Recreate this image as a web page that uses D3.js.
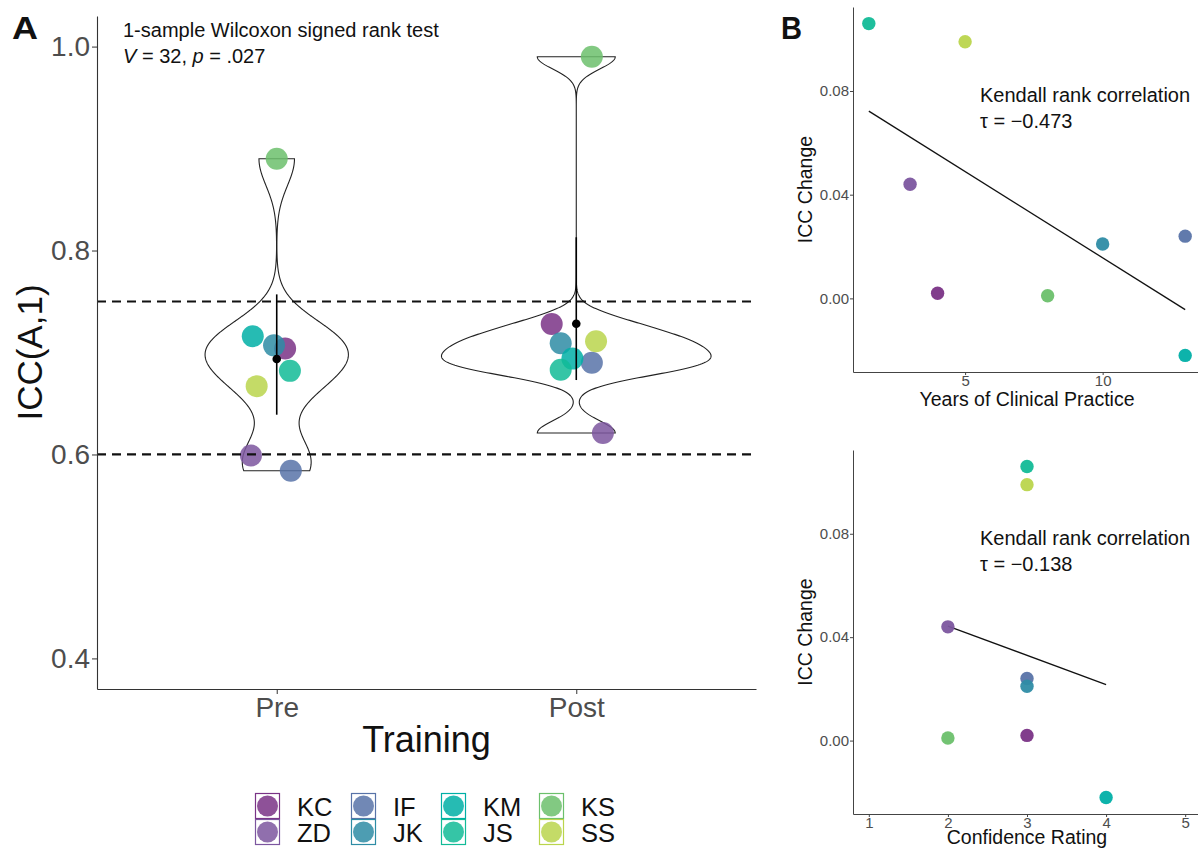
<!DOCTYPE html>
<html>
<head>
<meta charset="utf-8">
<script src="https://cdn.jsdelivr.net/npm/d3@7"></script>
<style>
  body { margin: 0; background: #fff; }
  text { font-family: "Liberation Sans", Arial, Helvetica, sans-serif; }
</style>
</head>
<body>
<svg id="fig" width="1198" height="849"></svg>
<script>
// raters, in legend order
var raters = ["KC", "ZD", "IF", "JK", "KM", "JS", "KS", "SS"];
var raterColors = ["#7A3386", "#7C569F", "#5873A8", "#2E8CA5", "#00AFA6", "#12BB97", "#6CC06C", "#BAD54C"];

// panel A : ICC(A,1) before / after training
var phases = ["Pre", "Post"];
var iccPre  = [0.704, 0.599, 0.584, 0.707, 0.716, 0.682, 0.890, 0.667];
var iccPost = [0.728, 0.621, 0.690, 0.709, 0.694, 0.683, 0.990, 0.711];
var jitterPre  = [0.028, -0.086, 0.047, -0.009, -0.080, 0.044, 0.000, -0.067];
var jitterPost = [-0.082, 0.089, 0.052, -0.052, -0.013, -0.052, 0.052, 0.066];
var ciLow  = [0.639, 0.673];
var ciHigh = [0.757, 0.813];
var thresholds = [0.6, 0.75];
var iccTicks = [0.4, 0.6, 0.8, 1.0];

// panel B : ICC change vs experience / confidence
var iccChange  = [0.002, 0.044, 0.024, 0.021, -0.022, 0.106, 0.001, 0.099];
var years      = [4, 3, 13, 10, 13, 1.5, 8, 5];
var confidence = [3, 2, 3, 3, 4, 3, 2, 3];
var yearTicks = [5, 10];
var confTicks = [1, 2, 3, 4, 5];
var changeTicks = [0, 0.04, 0.08];
var tauYears = "\u22120.473";
var tauConf  = "\u22120.138";

var svg = d3.select("#fig");
var grey = "#4D4D4D";

//----------------- Panel A -----------------
var A = {left: 97, right: 756, top: 16, bottom: 689};
var xA = d3.scalePoint().domain(phases).range([A.left, A.right]).padding(0.6);
var yA = d3.scaleLinear().domain([0.37, 1.03]).range([A.bottom, A.top]);

var groups = [iccPre, iccPost];
var jitters = [jitterPre, jitterPost];

// kernel density like R's density() with bw.nrd0, trimmed to data range
function bwNrd0(v) {
    var s = d3.deviation(v);
    var sorted = v.slice().sort(d3.ascending);
    var iqr = d3.quantileSorted(sorted, 0.75) - d3.quantileSorted(sorted, 0.25);
    return 0.9 * Math.min(s, iqr / 1.34) * Math.pow(v.length, -0.2);
}
function kde(v) {
    var bw = bwNrd0(v);
    var ext = d3.extent(v);
    return d3.range(512).map(function (i) {
        var y = ext[0] + (ext[1] - ext[0]) * i / 511;
        var d = d3.mean(v, function (x) { return Math.exp(-0.5 * Math.pow((y - x) / bw, 2)); }) / (bw * Math.sqrt(2 * Math.PI));
        return [y, d];
    });
}
var dens = groups.map(kde);
var maxD = d3.max(dens, function (g) { return d3.max(g, function (d) { return d[1]; }); });
var halfW = 0.45 * xA.step();

var gA = svg.append("g");

// violins
dens.forEach(function (g, i) {
    var cx = xA(phases[i]);
    var right = g.map(function (d) { return [cx + d[1] / maxD * halfW, yA(d[0])]; });
    var left = g.map(function (d) { return [cx - d[1] / maxD * halfW, yA(d[0])]; }).reverse();
    gA.append("path")
        .attr("d", d3.line()(right.concat(left)) + "Z")
        .attr("fill", "none")
        .attr("stroke", "#222")
        .attr("stroke-width", 1.1);
});

// points
groups.forEach(function (g, i) {
    gA.selectAll(".pt" + i)
        .data(g)
        .enter()
        .append("circle")
        .attr("cx", function (d, j) { return xA(phases[i]) + jitters[i][j] * xA.step(); })
        .attr("cy", function (d) { return yA(d); })
        .attr("r", 11)
        .attr("fill", function (d, j) { return raterColors[j]; })
        .attr("fill-opacity", 0.85);
});

// mean and interval
phases.forEach(function (p, i) {
    gA.append("line")
        .attr("x1", xA(p)).attr("x2", xA(p))
        .attr("y1", yA(ciLow[i])).attr("y2", yA(ciHigh[i]))
        .attr("stroke", "#000").attr("stroke-width", 1.6);
    gA.append("circle")
        .attr("cx", xA(p)).attr("cy", yA(d3.mean(groups[i])))
        .attr("r", 4.3).attr("fill", "#000");
});

// threshold lines
gA.selectAll(".thr")
    .data(thresholds)
    .enter()
    .append("line")
    .attr("x1", A.left).attr("x2", A.right)
    .attr("y1", function (d) { return yA(d); })
    .attr("y2", function (d) { return yA(d); })
    .attr("stroke", "#111").attr("stroke-width", 2.2)
    .attr("stroke-dasharray", "9,6");

// axes
var axA_y = gA.append("g").attr("transform", "translate(" + A.left + ",0)")
    .call(d3.axisLeft(yA).tickValues(iccTicks).tickFormat(d3.format(".1f")).tickSize(5).tickSizeOuter(0).tickPadding(2));
var axA_x = gA.append("g").attr("transform", "translate(0," + A.bottom + ")")
    .call(d3.axisBottom(xA).tickSize(5).tickSizeOuter(0).tickPadding(3));
[axA_y, axA_x].forEach(function (ax) {
    ax.select(".domain").attr("stroke", "#333").attr("stroke-width", 1.1);
    ax.selectAll(".tick line").attr("stroke", "#333");
    ax.selectAll(".tick text").attr("fill", grey).attr("font-size", 28)
        .style("font-family", "'Liberation Sans', Arial, sans-serif");
});

gA.append("text")
    .attr("transform", "translate(42," + ((A.top + A.bottom) / 2) + ") rotate(-90)")
    .attr("text-anchor", "middle").attr("font-size", 35).attr("fill", "#111")
    .text("ICC(A,1)");
gA.append("text")
    .attr("x", (A.left + A.right) / 2).attr("y", 752)
    .attr("text-anchor", "middle").attr("font-size", 36).attr("fill", "#111")
    .text("Training");

// test annotation
gA.append("text").attr("x", 123).attr("y", 37).attr("font-size", 20).attr("fill", "#111")
    .text("1-sample Wilcoxon signed rank test");
var stat = gA.append("text").attr("x", 123).attr("y", 63).attr("font-size", 20).attr("fill", "#111");
stat.append("tspan").attr("font-style", "italic").text("V");
stat.append("tspan").text(" = 32, ");
stat.append("tspan").attr("font-style", "italic").text("p");
stat.append("tspan").text(" = .027");

// legend (4 columns x 2 rows)
var legendColX = [255, 351, 441, 539];
var leg = svg.append("g");
raters.forEach(function (r, i) {
    var col = Math.floor(i / 2), row = i % 2;
    var x0 = legendColX[col], y0 = 793 + row * 26;
    leg.append("rect").attr("x", x0 + 0.5).attr("y", y0 + 0.5).attr("width", 24).attr("height", 25)
        .attr("fill", "none").attr("stroke", raterColors[i]).attr("stroke-width", 1.2);
    leg.append("circle").attr("cx", x0 + 12.5).attr("cy", y0 + 13).attr("r", 10.5)
        .attr("fill", raterColors[i]).attr("fill-opacity", 0.85);
    leg.append("text").attr("x", x0 + 42).attr("y", y0 + 22.5).attr("font-size", 25.5).attr("fill", "#111").text(r);
});

// panel letters
svg.append("text").attr("x", 12).attr("y", 39).attr("font-size", 32).attr("font-weight", "bold")
    .attr("textLength", 26).attr("lengthAdjust", "spacingAndGlyphs").attr("fill", "#111").text("A");
svg.append("text").attr("x", 781).attr("y", 39).attr("font-size", 32).attr("font-weight", "bold")
    .attr("textLength", 21).attr("lengthAdjust", "spacingAndGlyphs").attr("fill", "#111").text("B");

//----------------- Panel B -----------------
function expand(ext, f) {
    var pad = (ext[1] - ext[0]) * f;
    return [ext[0] - pad, ext[1] + pad];
}

function scatter(box, xs, xTicks, xDomain, xTitle, tau, xTitleY) {
    var g = svg.append("g");
    var x = d3.scaleLinear().domain(expand(xDomain, 0.05)).range([box.left, box.right]);
    var y = d3.scaleLinear().domain(expand(d3.extent(iccChange), 0.05)).range([box.bottom, box.top]);

    // least squares line over data range
    var mx = d3.mean(xs), my = d3.mean(iccChange);
    var sxy = d3.sum(xs, function (v, i) { return (v - mx) * (iccChange[i] - my); });
    var sxx = d3.sum(xs, function (v) { return (v - mx) * (v - mx); });
    var slope = sxy / sxx, icpt = my - slope * mx;
    var xr = d3.extent(xs);
    g.append("line")
        .attr("x1", x(xr[0])).attr("y1", y(icpt + slope * xr[0]))
        .attr("x2", x(xr[1])).attr("y2", y(icpt + slope * xr[1]))
        .attr("stroke", "#111").attr("stroke-width", 1.3);

    g.selectAll(".dot")
        .data(iccChange)
        .enter()
        .append("circle")
        .attr("cx", function (d, i) { return x(xs[i]); })
        .attr("cy", function (d) { return y(d); })
        .attr("r", 6.7)
        .attr("fill", function (d, i) { return raterColors[i]; })
        .attr("fill-opacity", 0.95);

    var ay = g.append("g").attr("transform", "translate(" + box.left + ",0)")
        .call(d3.axisLeft(y).tickValues(changeTicks).tickFormat(d3.format(".2f")).tickSize(3).tickSizeOuter(0).tickPadding(1));
    var ax = g.append("g").attr("transform", "translate(0," + box.bottom + ")")
        .call(d3.axisBottom(x).tickValues(xTicks).tickFormat(d3.format("d")).tickSize(3).tickSizeOuter(0).tickPadding(0.5));
    [ay, ax].forEach(function (a) {
        a.select(".domain").attr("stroke", "#444").attr("stroke-width", 1);
        a.selectAll(".tick line").attr("stroke", "#444");
        a.selectAll(".tick text").attr("fill", grey).attr("font-size", 15)
            .style("font-family", "'Liberation Sans', Arial, sans-serif");
    });

    g.append("text")
        .attr("transform", "translate(812," + ((box.top + box.bottom) / 2) + ") rotate(-90)")
        .attr("text-anchor", "middle").attr("font-size", 19.5).attr("fill", "#111")
        .text("ICC Change");
    g.append("text")
        .attr("x", (box.left + box.right) / 2).attr("y", xTitleY)
        .attr("text-anchor", "middle").attr("font-size", 19.5).attr("fill", "#111")
        .text(xTitle);

    g.append("text").attr("x", 980).attr("y", box.top + 95).attr("font-size", 20).attr("fill", "#111")
        .text("Kendall rank correlation");
    g.append("text").attr("x", 980).attr("y", box.top + 121).attr("font-size", 20).attr("fill", "#111")
        .text("\u03c4 = " + tau);
}

scatter({left: 853, right: 1201, top: 7, bottom: 372}, years, yearTicks, d3.extent(years),
    "Years of Clinical Practice", tauYears, 406);
scatter({left: 853, right: 1201, top: 450, bottom: 814}, confidence, confTicks, d3.extent(confTicks),
    "Confidence Rating", tauConf, 844);
</script>
</body>
</html>
